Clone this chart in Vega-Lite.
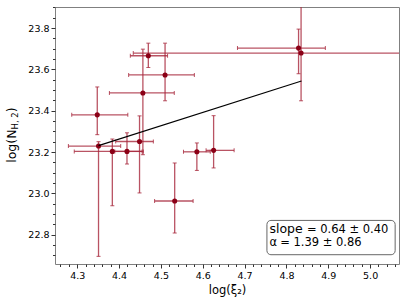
{
  "$schema": "https://vega.github.io/schema/vega-lite/v6.json",
  "width": 344,
  "height": 257,
  "autosize": {"type": "none"},
  "padding": {"left": 55, "top": 7, "right": 8, "bottom": 41},
  "background": "white",
  "config": {
    "font": "DejaVu Sans",
    "view": {"stroke": "#808080", "strokeWidth": 1},
    "axis": {"domain": false, "grid": false, "labelColor": "#000000", "tickColor": "#333333", "labelFont": "DejaVu Sans", "titleFont": "DejaVu Sans", "titleFontWeight": "normal", "titleColor": "#000000", "labelFontSize": 9.5, "labelPadding": 2, "labelFlush": false}
  },
  "datasets": {
    "pts": [
      {"x": 4.829, "y": 23.703, "xlo": 4.683, "xhi": 4.893, "ylo": 23.579, "yhi": 23.795},
      {"x": 4.835, "y": 23.679, "xlo": 4.434, "xhi": 5.236, "ylo": 23.448, "yhi": 23.91},
      {"x": 4.470, "y": 23.666, "xlo": 4.427, "xhi": 4.516, "ylo": 23.609, "yhi": 23.727},
      {"x": 4.510, "y": 23.573, "xlo": 4.423, "xhi": 4.580, "ylo": 23.448, "yhi": 23.727},
      {"x": 4.457, "y": 23.486, "xlo": 4.377, "xhi": 4.532, "ylo": 23.187, "yhi": 23.698},
      {"x": 4.449, "y": 23.251, "xlo": 4.392, "xhi": 4.482, "ylo": 23.002, "yhi": 23.375},
      {"x": 4.348, "y": 23.380, "xlo": 4.287, "xhi": 4.421, "ylo": 23.284, "yhi": 23.515},
      {"x": 4.351, "y": 23.229, "xlo": 4.279, "xhi": 4.404, "ylo": 22.695, "yhi": 23.25},
      {"x": 4.384, "y": 23.203, "xlo": 4.293, "xhi": 4.458, "ylo": 22.940, "yhi": 23.263},
      {"x": 4.419, "y": 23.203, "xlo": 4.390, "xhi": 4.455, "ylo": 23.142, "yhi": 23.293},
      {"x": 4.533, "y": 22.963, "xlo": 4.485, "xhi": 4.577, "ylo": 22.808, "yhi": 23.147},
      {"x": 4.586, "y": 23.201, "xlo": 4.554, "xhi": 4.618, "ylo": 23.111, "yhi": 23.244},
      {"x": 4.626, "y": 23.208, "xlo": 4.608, "xhi": 4.675, "ylo": 23.123, "yhi": 23.376}
    ],
    "fit": [
      {"x": 4.351, "y": 23.231},
      {"x": 4.836, "y": 23.544}
    ],
    "box": [
      {"x1": 4.7534, "x2": 5.0598, "y1": 22.703, "y2": 22.869}
    ],
    "notes": [
      {"x": 4.7594, "y": 22.810, "t": "slope", "style": "italic", "size": 12.5},
      {"x": 4.849, "y": 22.810, "t": "= 0.64 ± 0.40", "style": "normal", "size": 11.5},
      {"x": 4.7594, "y": 22.744, "t": "α", "style": "italic", "size": 11.5},
      {"x": 4.785, "y": 22.744, "t": "= 1.39 ± 0.86", "style": "normal", "size": 11.5}
    ],
    "ytitle": [
      {"x": 4.1543, "y": 23.148, "t": "log(N", "size": 12.5},
      {"x": 4.1591, "y": 23.309, "t": "H, 2", "size": 8.5},
      {"x": 4.1543, "y": 23.392, "t": ")", "size": 12.5}
    ]
  },
  "layer": [
    {
      "data": {"name": "pts"},
      "mark": {"type": "rule", "clip": true, "color": "#a8283c", "opacity": 0.8, "strokeWidth": 1.3},
      "encoding": {
        "x": {"field": "xlo", "type": "quantitative",
          "scale": {"domain": [4.247, 5.069], "nice": false, "zero": false},
          "axis": {
            "orient": "bottom", "title": "log(ξ₂)", "titleFontSize": 11.5, "titlePadding": 5,
            "values": [4.3, 4.4, 4.5, 4.6, 4.7, 4.8, 4.9, 5.0],
            "format": ".1f", "labelOverlap": false, "tickSize": 4
          }},
        "x2": {"field": "xhi"},
        "y": {"field": "y", "type": "quantitative",
          "scale": {"domain": [22.658, 23.902], "nice": false, "zero": false},
          "axis": {
            "orient": "left", "title": null,
            "values": [22.8, 23.0, 23.2, 23.4, 23.6, 23.8],
            "format": ".1f", "labelOverlap": false, "tickSize": 4
          }}
      }
    },
    {
      "data": {"name": "pts"},
      "mark": {"type": "rule", "clip": true, "color": "#a8283c", "opacity": 0.8, "strokeWidth": 1.3},
      "encoding": {
        "x": {"field": "x", "type": "quantitative",
          "axis": {
            "orient": "bottom", "title": null, "labels": false, "tickSize": 2.5,
            "values": [4.26,4.28,4.32,4.34,4.36,4.38,4.42,4.44,4.46,4.48,4.52,4.54,4.56,4.58,4.62,4.64,4.66,4.68,4.72,4.74,4.76,4.78,4.82,4.84,4.86,4.88,4.92,4.94,4.96,4.98,5.02,5.04,5.06]
          }},
        "y": {"field": "ylo", "type": "quantitative",
          "axis": {
            "orient": "left", "title": null, "labels": false, "tickSize": 2.5,
            "values": [22.7,22.75,22.85,22.9,22.95,23.05,23.1,23.15,23.25,23.3,23.35,23.45,23.5,23.55,23.65,23.7,23.75,23.85,23.9]
          }},
        "y2": {"field": "yhi"}
      }
    },
    {
      "data": {"name": "pts"},
      "transform": [{"fold": ["xlo", "xhi"], "as": ["k", "xv"]}],
      "mark": {"type": "tick", "clip": true, "orient": "vertical", "size": 4, "thickness": 1, "color": "#a8283c", "opacity": 0.8},
      "encoding": {
        "x": {"field": "xv", "type": "quantitative", "axis": null},
        "y": {"field": "y", "type": "quantitative", "axis": null}
      }
    },
    {
      "data": {"name": "pts"},
      "transform": [{"fold": ["ylo", "yhi"], "as": ["k", "yv"]}],
      "mark": {"type": "tick", "clip": true, "orient": "horizontal", "size": 4, "thickness": 1, "color": "#a8283c", "opacity": 0.8},
      "encoding": {
        "x": {"field": "x", "type": "quantitative", "axis": null},
        "y": {"field": "yv", "type": "quantitative", "axis": null}
      }
    },
    {
      "data": {"name": "pts"},
      "mark": {"type": "point", "filled": true, "shape": "circle", "size": 26, "color": "#8b0016", "opacity": 1},
      "encoding": {
        "x": {"field": "x", "type": "quantitative", "axis": null},
        "y": {"field": "y", "type": "quantitative", "axis": null}
      }
    },
    {
      "data": {"name": "fit"},
      "mark": {"type": "line", "color": "#000000", "strokeWidth": 1.1},
      "encoding": {
        "x": {"field": "x", "type": "quantitative", "axis": null},
        "y": {"field": "y", "type": "quantitative", "axis": null}
      }
    },
    {
      "data": {"name": "box"},
      "mark": {"type": "rect", "fill": "white", "fillOpacity": 0.8, "stroke": "#666666", "strokeWidth": 1, "cornerRadius": 4},
      "encoding": {
        "x": {"field": "x1", "type": "quantitative", "axis": null},
        "x2": {"field": "x2"},
        "y": {"field": "y1", "type": "quantitative", "axis": null},
        "y2": {"field": "y2"}
      }
    },
    {
      "data": {"name": "notes"},
      "mark": {"type": "text", "align": "left", "baseline": "alphabetic", "font": "DejaVu Sans", "color": "#000000"},
      "encoding": {
        "x": {"field": "x", "type": "quantitative", "axis": null},
        "y": {"field": "y", "type": "quantitative", "axis": null},
        "text": {"field": "t"},
        "fontStyle": {"field": "style", "type": "nominal", "scale": null},
        "size": {"field": "size", "type": "quantitative", "scale": null}
      }
    },
    {
      "data": {"name": "ytitle"},
      "mark": {"type": "text", "align": "left", "baseline": "alphabetic", "angle": 270, "font": "DejaVu Sans", "color": "#000000", "clip": false},
      "encoding": {
        "x": {"field": "x", "type": "quantitative", "axis": null},
        "y": {"field": "y", "type": "quantitative", "axis": null},
        "text": {"field": "t"},
        "size": {"field": "size", "type": "quantitative", "scale": null}
      }
    }
  ],
  "resolve": {"axis": {"x": "independent", "y": "independent"}}
}
